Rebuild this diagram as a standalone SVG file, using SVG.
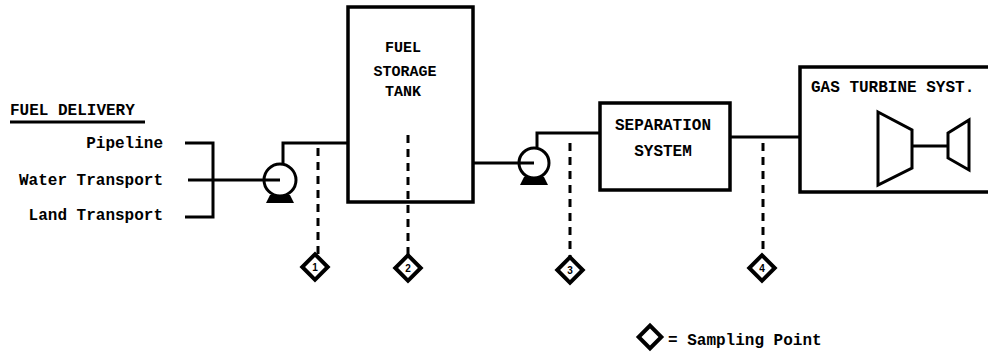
<svg xmlns="http://www.w3.org/2000/svg" width="988" height="355" viewBox="0 0 988 355">
<style>
.t{font-family:"Liberation Mono",monospace;font-weight:bold;font-size:16px;fill:#000}
.ts{font-family:"Liberation Mono",monospace;font-weight:bold;font-size:15px;fill:#000}
.n{font-family:"Liberation Sans",sans-serif;font-weight:bold;font-size:10px;fill:#000}
.ln{stroke:#000;stroke-width:3;fill:none}
.box{stroke:#000;stroke-width:3.5;fill:none}
.dash{stroke:#000;stroke-width:3;stroke-dasharray:8,6;fill:none}
.sp{stroke:#000;stroke-width:4;fill:#fff}
</style>
<rect width="988" height="355" fill="#fff"/>
<g id="connectors">
  <path class="ln" d="M185,143 H213 V217 H185"/>
  <path class="ln" d="M188,180 H280"/>
  <path class="ln" d="M283,163 V143 H348"/>
  <path class="ln" d="M473,163 H534"/>
  <path class="ln" d="M537,147 V133 H600"/>
  <path class="ln" d="M730,137 H800"/>
  <path class="dash" d="M318,148 V255"/>
  <path class="dash" d="M408,135 V255"/>
  <path class="dash" d="M570,143 V257"/>
  <path class="dash" d="M763,143 V255"/>
</g>
<g id="fuel-delivery">
  <text class="t" x="10" y="115">FUEL DELIVERY</text>
  <line class="ln" x1="10" y1="122" x2="145" y2="122"/>
  <text class="t" x="163" y="148" text-anchor="end">Pipeline</text>
  <text class="t" x="163" y="185" text-anchor="end">Water Transport</text>
  <text class="t" x="163" y="220" text-anchor="end">Land Transport</text>
</g>
<g id="pump1">
  <circle class="ln" cx="280" cy="180" r="16"/>
  <path d="M266,203 L270,195 L290,195 L294,203 Z" fill="#000"/>
</g>
<g id="tank">
  <rect class="box" x="348" y="7" width="125" height="195"/>
  <text class="ts" x="403" y="52" text-anchor="middle">FUEL</text>
  <text class="ts" x="405" y="76" text-anchor="middle">STORAGE</text>
  <text class="ts" x="403" y="96" text-anchor="middle">TANK</text>
</g>
<g id="pump2">
  <circle class="ln" cx="534" cy="163" r="15"/>
  <path d="M520,185 L524,177 L544,177 L548,185 Z" fill="#000"/>
</g>
<g id="separation">
  <rect class="box" x="600" y="103" width="130" height="87"/>
  <text class="t" x="663" y="130" text-anchor="middle">SEPARATION</text>
  <text class="t" x="663" y="156" text-anchor="middle">SYSTEM</text>
</g>
<g id="turbine">
  <path class="box" d="M995,67 H800 V192 H995"/>
  <text class="t" x="811" y="92">GAS TURBINE SYST.</text>
  <polygon class="ln" points="878,112 912,130 912,168 878,185"/>
  <line class="ln" x1="912" y1="146" x2="948" y2="146"/>
  <polygon class="ln" points="948,133 969,120 969,170 948,158"/>
</g>
<g id="sp1"><rect class="sp" x="306" y="258" width="18" height="18" transform="rotate(45 315 267)"/><text class="n" x="315" y="271" text-anchor="middle">1</text></g>
<g id="sp2"><rect class="sp" x="399" y="259" width="18" height="18" transform="rotate(45 408 268)"/><text class="n" x="408" y="272" text-anchor="middle">2</text></g>
<g id="sp3"><rect class="sp" x="561" y="261" width="18" height="18" transform="rotate(45 570 270)"/><text class="n" x="570" y="274" text-anchor="middle">3</text></g>
<g id="sp4"><rect class="sp" x="753" y="259" width="18" height="18" transform="rotate(45 762 268)"/><text class="n" x="762" y="272" text-anchor="middle">4</text></g>
<g id="legend">
  <rect class="sp" x="642" y="329" width="16" height="16" transform="rotate(45 650 337)"/>
  <text class="t" x="668" y="345">= Sampling Point</text>
</g>
</svg>
